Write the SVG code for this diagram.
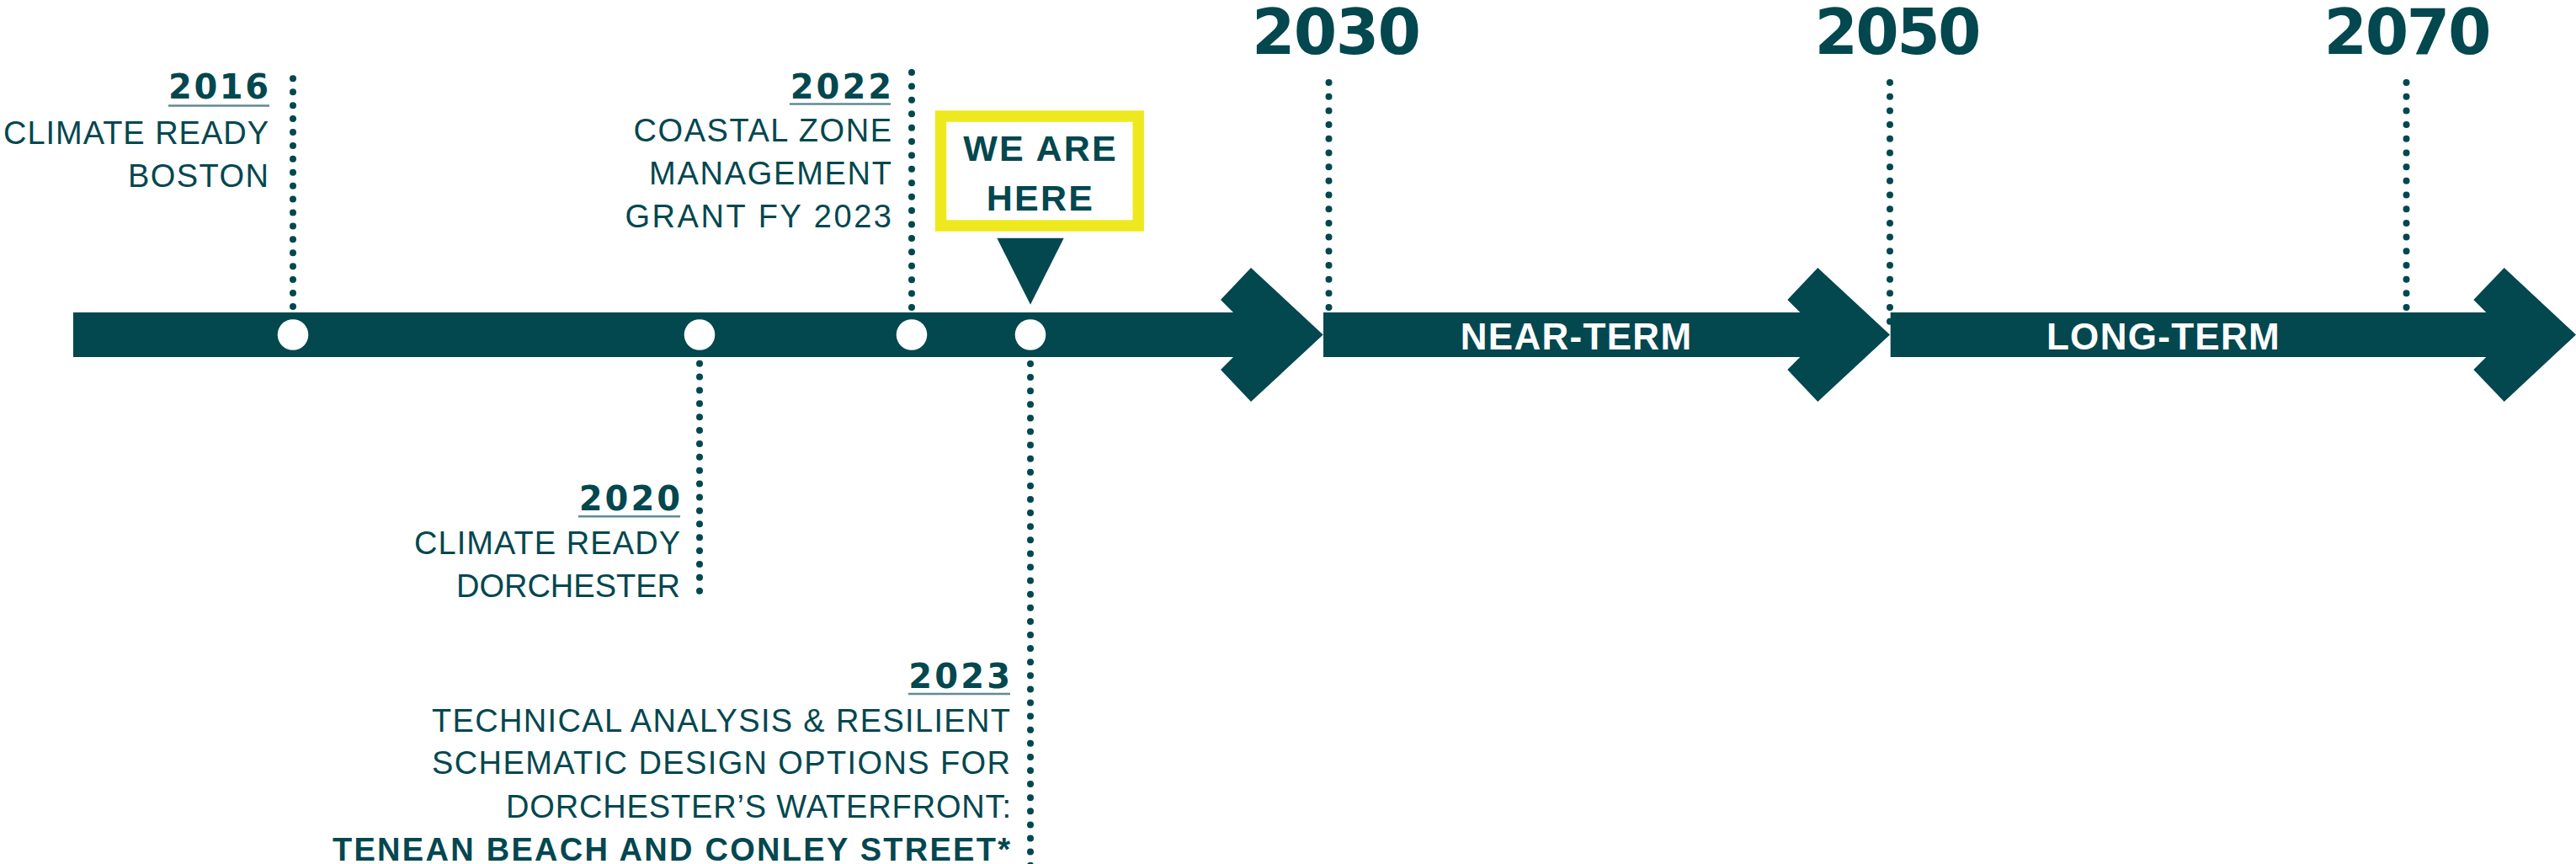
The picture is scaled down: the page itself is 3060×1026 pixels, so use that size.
<svg xmlns="http://www.w3.org/2000/svg" width="3060" height="1026" viewBox="0 0 3060 1026">
<style>
.bar{fill:#03474f}
.dot{fill:#ffffff}
.lead{stroke:#03474f;stroke-width:8;stroke-linecap:round;fill:none}
.txt{font-family:"Liberation Sans",Arial,sans-serif;font-size:38px;fill:#03474f;text-anchor:end}
.yr{font-family:"DejaVu Sans",Verdana,sans-serif;font-size:40px;font-weight:bold;fill:#03474f;text-anchor:end}
.ul{stroke:#5f8c91;stroke-width:2.5}
.big{font-family:"DejaVu Sans",Verdana,sans-serif;font-size:74px;font-weight:bold;fill:#03474f;text-anchor:middle}
.term{font-family:"Liberation Sans",Arial,sans-serif;font-size:44px;font-weight:bold;fill:#ffffff;letter-spacing:1.3px;text-anchor:middle}
.here{font-family:"Liberation Sans",Arial,sans-serif;font-size:43px;font-weight:bold;fill:#03474f;letter-spacing:2.2px;text-anchor:middle}
.bold{font-weight:bold}
</style>
<rect width="3060" height="1026" fill="#ffffff"/>

<g id="connectors">
<line class="lead" x1="348" y1="93.3" x2="348" y2="364" stroke-dasharray="0 15.92"/>
<line class="lead" x1="1083" y1="86" x2="1083" y2="365" stroke-dasharray="0 16.41"/>
<line class="lead" x1="831" y1="431.7" x2="831" y2="701.7" stroke-dasharray="0 15.88"/>
<line class="lead" x1="1224" y1="432" x2="1224" y2="1030" stroke-dasharray="0 16.1"/>
<line class="lead" x1="1578.5" y1="98" x2="1578.5" y2="382" stroke-dasharray="0 16.69"/>
<line class="lead" x1="2245" y1="98" x2="2245" y2="382" stroke-dasharray="0 16.69"/>
<line class="lead" x1="2858.5" y1="98" x2="2858.5" y2="382" stroke-dasharray="0 16.69"/>
</g>

<g id="timeline-past">
<polygon class="bar" points="87,371 1465,371 1450,356 1486,318 1571.7,397.5 1486,477 1450,439 1465,424 87,424"/>
</g>
<g id="timeline-near-term">
<polygon class="bar" points="1572,371 2138.3,371 2123.3,356 2159.3,318 2245,397.5 2159.3,477 2123.3,439 2138.3,424 1572,424"/>
<text class="term" x="1872.5" y="415">NEAR-TERM</text>
</g>
<g id="timeline-long-term">
<polygon class="bar" points="2245.7,371 2953.3,371 2938.3,356 2974.7,318 3060,397.5 2974.7,477 2938.3,439 2953.3,424 2245.7,424"/>
<text class="term" x="2570" y="415">LONG-TERM</text>
</g>

<g id="year-2030"><text class="big" x="1587.5" y="63.5" textLength="201" lengthAdjust="spacing">2030</text></g>
<g id="year-2050"><text class="big" x="2254.5" y="63.5" textLength="198" lengthAdjust="spacing">2050</text></g>
<g id="year-2070"><text class="big" x="2860" y="63.5" textLength="199" lengthAdjust="spacing">2070</text></g>

<g id="m2016">
<circle class="dot" cx="348" cy="397.5" r="18.3"/>
<text class="yr" x="319" y="117.3" textLength="119" lengthAdjust="spacing">2016</text>
<line class="ul" x1="200" y1="125.5" x2="320" y2="125.5"/>
<text class="txt" x="319" y="170.7" textLength="315" lengthAdjust="spacing">CLIMATE READY</text>
<text class="txt" x="319" y="221.7" textLength="167" lengthAdjust="spacing">BOSTON</text>
</g>

<g id="m2020">
<circle class="dot" cx="831" cy="397.5" r="18.3"/>
<text class="yr" x="808.2" y="605.7" textLength="120.5" lengthAdjust="spacing">2020</text>
<line class="ul" x1="687" y1="613.3" x2="808" y2="613.3"/>
<text class="txt" x="808" y="658.3" textLength="316" lengthAdjust="spacing">CLIMATE READY</text>
<text class="txt" x="808" y="709.3" textLength="266" lengthAdjust="spacing">DORCHESTER</text>
</g>

<g id="m2022">
<circle class="dot" cx="1083" cy="397.5" r="18.3"/>
<text class="yr" x="1059.2" y="117.3" textLength="120.5" lengthAdjust="spacing">2022</text>
<line class="ul" x1="938" y1="123.5" x2="1058" y2="123.5"/>
<text class="txt" x="1059" y="168.3" textLength="306.5" lengthAdjust="spacing">COASTAL ZONE</text>
<text class="txt" x="1059" y="219" textLength="288" lengthAdjust="spacing">MANAGEMENT</text>
<text class="txt" x="1059" y="270" textLength="316.5" lengthAdjust="spacing">GRANT FY 2023</text>
</g>

<g id="m2023">
<circle class="dot" cx="1224" cy="397.5" r="18.3"/>
<text class="yr" x="1200.2" y="817.3" textLength="121" lengthAdjust="spacing">2023</text>
<line class="ul" x1="1079" y1="824" x2="1200" y2="824"/>
<text class="txt" x="1200" y="869" textLength="687" lengthAdjust="spacing">TECHNICAL ANALYSIS &amp; RESILIENT</text>
<text class="txt" x="1200" y="919" textLength="687" lengthAdjust="spacing">SCHEMATIC DESIGN OPTIONS FOR</text>
<text class="txt" x="1201" y="970.7" textLength="600" lengthAdjust="spacing">DORCHESTER’S WATERFRONT:</text>
<text class="txt bold" x="1200" y="1021.7" textLength="805" lengthAdjust="spacing">TENEAN BEACH AND CONLEY STREET*</text>
</g>

<g id="we-are-here">
<rect x="1117.5" y="138" width="234.7" height="130" fill="#ffffff" stroke="#eee91e" stroke-width="13.5"/>
<text class="here" x="1236" y="191">WE ARE</text>
<text class="here" x="1236" y="250">HERE</text>
<polygon class="bar" points="1184.3,282.7 1263.7,282.7 1224,361.7"/>
</g>
</svg>
